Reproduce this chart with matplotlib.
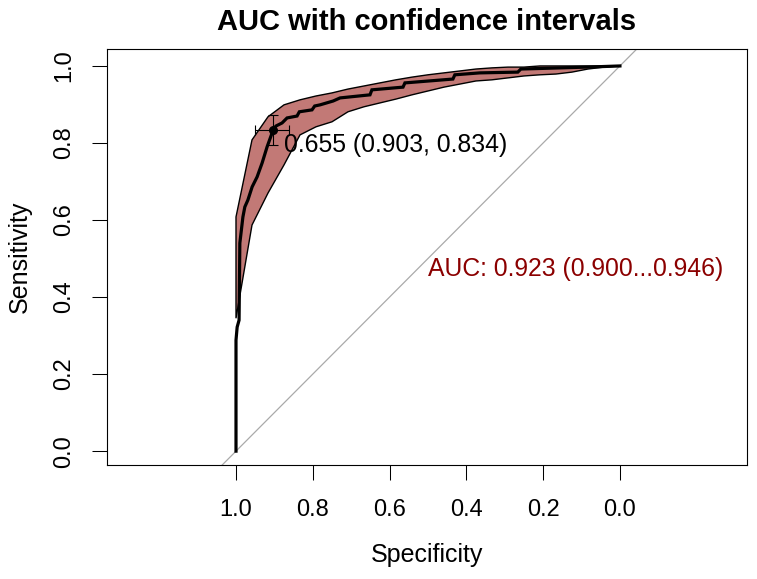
import matplotlib
matplotlib.use("Agg")
import matplotlib.pyplot as plt
import numpy as np

plt.rcParams['font.family'] = ['Liberation Sans', 'DejaVu Sans']

# ROC curve vertices (specificity, sensitivity), read as staircase corners
roc_spec = [1.000, 1.000, 0.997, 0.992, 0.990, 0.982, 0.977, 0.969, 0.958, 0.945,
            0.932, 0.919, 0.906, 0.903, 0.896, 0.880, 0.867, 0.841, 0.835, 0.802,
            0.795, 0.781, 0.747, 0.729, 0.651, 0.646, 0.565, 0.560, 0.435, 0.430,
            0.365, 0.266, 0.258, 0.086, 0.000]
roc_sens = [0.000, 0.288, 0.322, 0.340, 0.540, 0.608, 0.634, 0.652, 0.686, 0.712,
            0.748, 0.790, 0.826, 0.834, 0.844, 0.852, 0.865, 0.870, 0.881, 0.886,
            0.896, 0.899, 0.909, 0.917, 0.925, 0.938, 0.945, 0.956, 0.966, 0.977,
            0.982, 0.984, 0.992, 0.997, 1.000]

# Confidence band of sensitivity at 25 specificities
ci_spec = np.linspace(1, 0, 25)
ci_low = [0.345, 0.587, 0.670, 0.743, 0.821, 0.842, 0.855, 0.881, 0.894, 0.904,
          0.914, 0.925, 0.935, 0.945, 0.953, 0.961, 0.964, 0.969, 0.974, 0.977,
          0.979, 0.984, 0.992, 0.997, 1.000]
ci_high = [0.608, 0.808, 0.868, 0.899, 0.912, 0.922, 0.930, 0.940, 0.948, 0.956,
           0.964, 0.971, 0.977, 0.982, 0.987, 0.992, 0.995, 0.997, 0.997, 1.000,
           1.000, 1.000, 1.000, 1.000, 1.000]

# Best threshold and its CI
thr_value = 0.655
thr_spec, thr_sens = 0.903, 0.834
thr_spec_ci = (0.945, 0.855)
thr_sens_ci = (0.795, 0.873)

auc_text = "AUC: 0.923 (0.900...0.946)"
ticks = [1.0, 0.8, 0.6, 0.4, 0.2, 0.0]
tick_labels = ["1.0", "0.8", "0.6", "0.4", "0.2", "0.0"]

fig = plt.figure(figsize=(7.57, 5.79), dpi=100)
ax = fig.add_axes([107/757, 1-465/579, 640/757, 416/579])

ax.axline((1, 0), (0, 1), color='#AAAAAA', lw=0.9, zorder=1)

poly_x = np.concatenate([ci_spec, ci_spec[::-1]])
poly_y = np.concatenate([ci_low, ci_high[::-1]])
ax.fill(poly_x, poly_y, facecolor='#C27976', edgecolor='black', lw=1.0, zorder=2)

ax.plot(roc_spec, roc_sens, color='black', lw=2.3, zorder=3, solid_joinstyle='miter')

ax.errorbar([thr_spec], [thr_sens],
            xerr=[[thr_spec_ci[0]-thr_spec], [thr_spec-thr_spec_ci[1]]],
            yerr=[[thr_sens-thr_sens_ci[0]], [thr_sens_ci[1]-thr_sens]],
            fmt='o', color='black', ms=5.5, elinewidth=0.8, capsize=3.5, capthick=0.8, zorder=4)
ax.text(0.875, 0.777, f"{thr_value:.3f} ({thr_spec:.3f}, {thr_sens:.3f})",
        fontsize=17.8, ha='left', va='baseline', color='black', zorder=5)

ax.text(0.5, 0.4545, auc_text, fontsize=17.8, ha='left', va='baseline', color='#8B0000', zorder=5)

ax.set_xlim(1.336, -0.331)
ax.set_ylim(-0.036, 1.044)
ax.set_xticks(ticks)
ax.set_xticklabels(tick_labels)
ax.set_yticks(ticks)
ax.set_yticklabels(tick_labels, rotation=90, va='center')
ax.tick_params(axis='both', direction='out', length=10.8, width=0.75, labelsize=17, colors='black')
ax.tick_params(axis='x', pad=14)
ax.tick_params(axis='y', pad=12)
for s in ax.spines.values():
    s.set_linewidth(0.8)

ax.set_xlabel("Specificity", fontsize=18)
ax.xaxis.set_label_coords(0.5, (465-555)/416)
ax.xaxis.label.set_va('center')
ax.set_ylabel("Sensitivity", fontsize=18)
ax.yaxis.set_label_coords((20-107)/640, 0.5)
ax.yaxis.label.set_va('center')

ax.text(0.5, (465-22)/416, "AUC with confidence intervals", transform=ax.transAxes,
        ha='center', va='center', fontsize=21, fontweight='bold')

fig.savefig("out.png", dpi=100)
